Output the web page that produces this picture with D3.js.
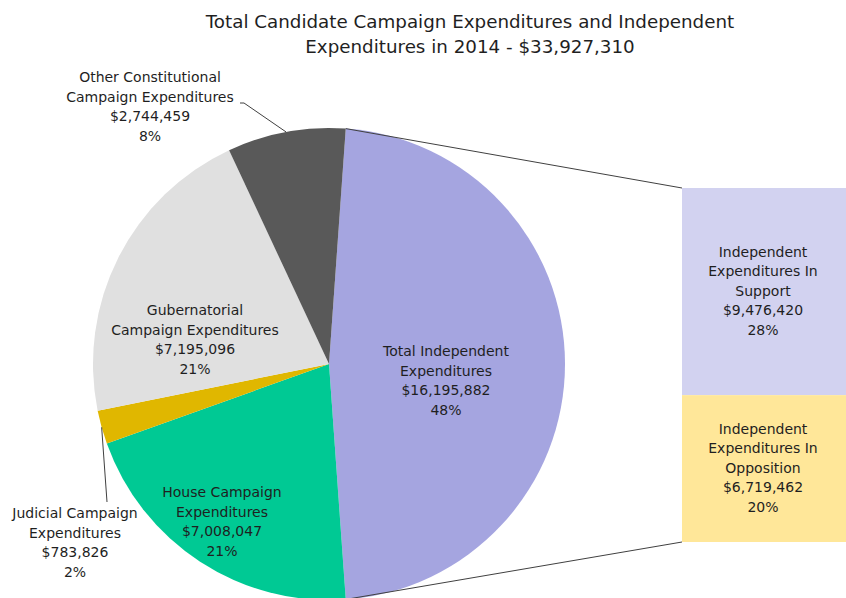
<!DOCTYPE html>
<html><head><meta charset="utf-8">
<script src="https://cdn.jsdelivr.net/npm/d3@7"></script>
<style>
body{margin:0;background:#fff;}
text{font-family:"DejaVu Sans",Tahoma,sans-serif;fill:#1f1f1f;}
</style></head>
<body><svg id="c" width="846" height="598"></svg>
<script>
const titleLines = ["Total Candidate Campaign Expenditures and Independent", "Expenditures in 2014 - $33,927,310"];
const pieCategories = ["Total Independent Expenditures", "House Campaign Expenditures", "Judicial Campaign Expenditures", "Gubernatorial Campaign Expenditures", "Other Constitutional Campaign Expenditures"];
const pieValues = [16195882, 7008047, 783826, 7195096, 2744459];
const pieLabels = [
  ["Total Independent", "Expenditures", "$16,195,882", "48%"],
  ["House Campaign", "Expenditures", "$7,008,047", "21%"],
  ["Judicial  Campaign", "Expenditures", "$783,826", "2%"],
  ["Gubernatorial", "Campaign Expenditures", "$7,195,096", "21%"],
  ["Other Constitutional", "Campaign Expenditures", "$2,744,459", "8%"]
];
const barCategories = ["Independent Expenditures In Support", "Independent Expenditures In Opposition"];
const barValues = [9476420, 6719462];
const barLabels = [
  ["Independent", "Expenditures In", "Support", "$9,476,420", "28%"],
  ["Independent", "Expenditures In", "Opposition", "$6,719,462", "20%"]
];

const pieColors = ["#A5A5E0", "#00C994", "#E0B700", "#E0E0E0", "#595959"];
const barColors = ["#D2D2F0", "#FFE799"];

const svg = d3.select("#c");
const cx = 329, cy = 364, R = 236;

// title
svg.append("g").selectAll("text").data(titleLines).join("text")
  .attr("x", 470).attr("y", (d, i) => 28 + i * 24.5)
  .attr("text-anchor", "middle").attr("font-size", 18.3).text(d => d);

const total = d3.sum(pieValues);
const firstAngle = pieValues[0] / total * 2 * Math.PI;
const start = Math.PI / 2 - firstAngle / 2;
const pie = d3.pie().sort(null).startAngle(start).endAngle(start + 2 * Math.PI);
const arcs = pie(pieValues);
const arc = d3.arc().innerRadius(0).outerRadius(R);

const g = svg.append("g").attr("transform", `translate(${cx},${cy})`);
g.selectAll("path").data(arcs).join("path")
  .attr("d", arc).attr("fill", (d, i) => pieColors[i]);

// bar of pie
const barX = 682, barW = 170, barTop = 188, barBottom = 542;
const sumBar = d3.sum(barValues);
const y = d3.scaleLinear().domain([0, sumBar]).range([barTop, barBottom]);
const cum = d3.cumsum(barValues);
const barData = barValues.map((v, i) => ({v, y0: i ? cum[i - 1] : 0, y1: cum[i], i}));
svg.append("g").selectAll("rect").data(barData).join("rect")
  .attr("x", barX).attr("width", barW)
  .attr("y", d => y(d.y0)).attr("height", d => y(d.y1) - y(d.y0))
  .attr("fill", d => barColors[d.i]);

// connectors
const a0 = arcs[0];
const pt = (ang, r) => [cx + r * Math.sin(ang), cy - r * Math.cos(ang)];
const p1 = pt(a0.startAngle, R), p2 = pt(a0.endAngle, R);
svg.append("line").attr("x1", p1[0]).attr("y1", p1[1]).attr("x2", barX).attr("y2", y(0))
  .attr("stroke", "#404040").attr("stroke-width", 1);
svg.append("line").attr("x1", p2[0]).attr("y1", p2[1]).attr("x2", barX).attr("y2", y(sumBar))
  .attr("stroke", "#404040").attr("stroke-width", 1);

// label layout (text anchors)
const labelPos = [[446, 356], [222, 497], [75, 518], [195, 315], [150, 82]];
const lh = 19.5;
pieLabels.forEach((lines, i) => {
  svg.append("g").selectAll("text").data(lines).join("text")
    .attr("x", labelPos[i][0]).attr("y", (d, j) => labelPos[i][1] + j * lh)
    .attr("text-anchor", "middle").attr("font-size", 14).text(d => d);
});

// leader lines
const mid = d => (d.startAngle + d.endAngle) / 2;
const pj = pt(mid(arcs[2]), R);
svg.append("path").attr("d", `M${pj[0]},${pj[1]}L${107},${502}`)
  .attr("stroke", "#404040").attr("fill", "none");
const po = pt(mid(arcs[4]), R);
svg.append("path").attr("d", `M${240},${103}L${244},${103}L${po[0]},${po[1]}`)
  .attr("stroke", "#404040").attr("fill", "none");

// bar labels
barLabels.forEach((lines, i) => {
  const ym = (y(barData[i].y0) + y(barData[i].y1)) / 2;
  svg.append("g").selectAll("text").data(lines).join("text")
    .attr("x", 763).attr("y", (d, j) => ym - 2 * lh + 4 + j * lh)
    .attr("text-anchor", "middle").attr("font-size", 14).text(d => d);
});
</script></body></html>
